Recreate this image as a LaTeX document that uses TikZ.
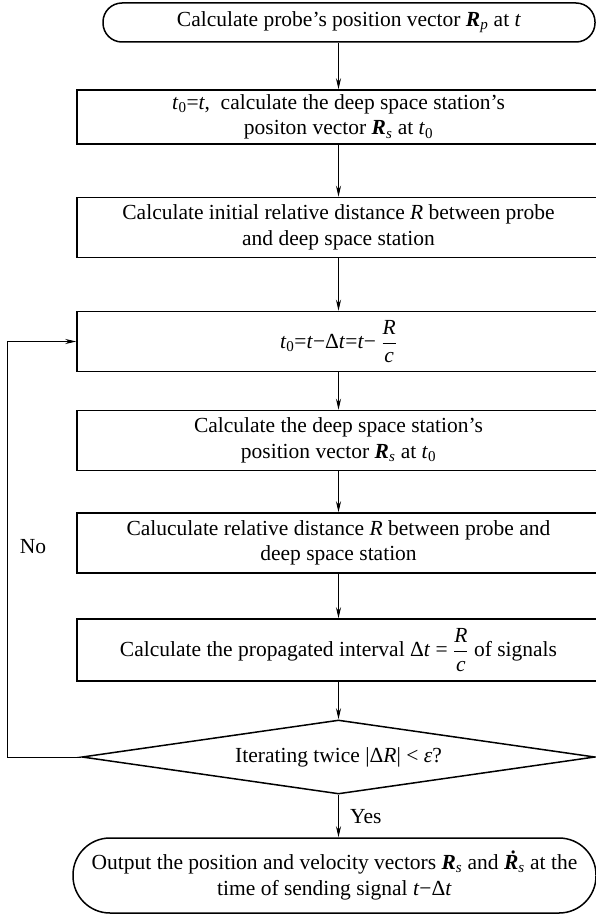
\documentclass[tikz,border=0pt]{standalone}
\usepackage{fontspec}
\setmainfont{Liberation Serif}
\usetikzlibrary{arrows.meta,shapes.geometric}
\newcommand{\bv}[1]{\textbf{\textit{#1}}}
\newcommand{\iv}[1]{\textit{#1}}
\newcommand{\Rfrac}{$\displaystyle\frac{\mbox{\itshape R}}{\mbox{\itshape c}}$}
\begin{document}
\begin{tikzpicture}[x=1pt,y=-1pt,
  every node/.style={font=\fontsize{21.5}{25.5}\selectfont, inner sep=0pt},
  procbox/.style={draw, line width=1.5pt, rectangle, minimum width=523pt, align=center},
  termbox/.style={draw, line width=1.5pt, rectangle, align=center},
  decbox/.style={draw, line width=1.5pt, diamond, shape aspect=6.9, minimum width=513pt, minimum height=74pt},
  conn/.style={line width=0.8pt, -{Stealth[length=11pt,width=5pt]}},
  lbl/.style={font=\fontsize{21.5}{25}\selectfont}
]
\useasboundingbox (0,0) rectangle (596,915);
\fill[white] (0,0) rectangle (596,915);

\node[termbox, minimum width=492pt, minimum height=39pt, rounded corners=19pt] (b1) at (349,22.5)
  {Calculate probe's position vector \bv{R}\textsubscript{\iv{p}} at \iv{t}};
\node[procbox, minimum height=54pt] (b2) at (338.5,117)
  {\iv{t}\textsubscript{0}=\iv{t},\ \ calculate the deep space station's\\ positon vector \bv{R}\textsubscript{\iv{s}} at \iv{t}\textsubscript{0}};
\node[procbox, minimum height=60pt] (b3) at (338.5,227.5)
  {Calculate initial relative distance \iv{R} between probe\\ and deep space station};
\node[procbox, minimum height=60pt] (b4) at (338.5,341.5)
  {\iv{t}\textsubscript{0}=\iv{t}−Δ\iv{t}=\iv{t}− \Rfrac};
\node[procbox, minimum height=60pt] (b5) at (338.5,440.5)
  {Calculate the deep space station's\\ position vector \bv{R}\textsubscript{\iv{s}} at \iv{t}\textsubscript{0}};
\node[procbox, minimum height=60pt] (b6) at (338.5,543)
  {Caluculate relative distance \iv{R} between probe and\\ deep space station};
\node[procbox, minimum height=62pt] (b7) at (338.5,650)
  {Calculate the propagated interval Δ\iv{t} = \Rfrac\ of signals};
\node[decbox] (dia) at (338.5,757)
  {Iterating twice |Δ\iv{R}| {<} \iv{ε}?};
\node[termbox, minimum width=523pt, minimum height=75pt, rounded corners=37pt] (b8) at (334.5,875.5)
  {Output the position and velocity vectors \bv{R}\textsubscript{\iv{s}} and \bv{\.{R}}\textsubscript{\iv{s}} at the\\ time of sending signal \iv{t}−Δ\iv{t}};

\node[lbl, anchor=west] (yes) at (350,817) {Yes};
\node[lbl] (no) at (33,547) {No};

\coordinate (lp) at (7,757);

\draw[conn] (b1.south -| b2.north) -- (b2.north);
\draw[conn] (b2) -- (b3);
\draw[conn] (b3) -- (b4);
\draw[conn] (b4) -- (b5);
\draw[conn] (b5) -- (b6);
\draw[conn] (b6) -- (b7);
\draw[conn] (b7.south) -- (dia.north);
\draw[conn] (dia.south) -- (dia.south |- b8.north);
\draw[conn] (dia.west) -- (lp) |- (b4.west);
\end{tikzpicture}
\end{document}
